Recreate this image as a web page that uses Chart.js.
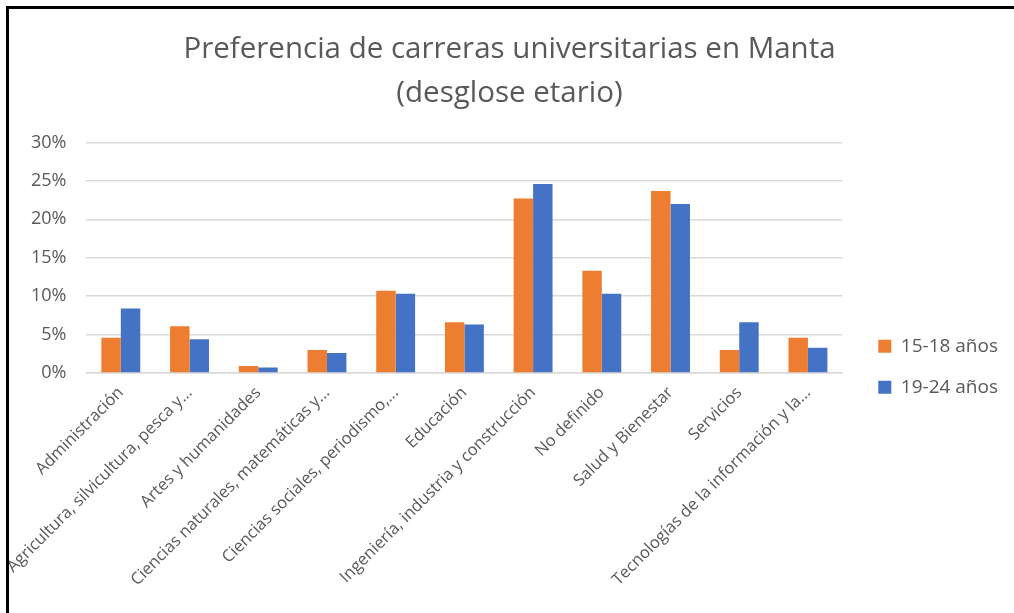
<!DOCTYPE html>
<html>
<head>
<meta charset="utf-8">
<script src="https://cdn.jsdelivr.net/npm/chart.js@4"></script>
<style>
    html, body {
        margin: 0;
        padding: 0;
        background: #fff;
        width: 1014px;
        height: 613px;
        overflow: hidden;
    }

    #wrap {
        position: absolute;
        left: 9px;
        top: 9px;
        width: 1005px;
        height: 604px;
    }

    /* marco negro (solo arriba e izquierda se ven) */
    #frame {
        position: absolute;
        left: 6px;
        top: 6px;
        width: 1100px;
        height: 700px;
        border-left: 3px solid #000;
        border-top: 3px solid #000;
        pointer-events: none;
    }
</style>
</head>
<body>

<div id="wrap">
    <canvas id="careerChart"></canvas>
</div>
<div id="frame"></div>

<script>
// categorías (tal como aparecen recortadas en el gráfico)
const categories = [
    "Administración",
    "Agricultura, silvicultura, pesca y...",
    "Artes y humanidades",
    "Ciencias naturales, matemáticas y...",
    "Ciencias sociales, periodismo,...",
    "Educación",
    "Ingeniería, industria y construcción",
    "No definido",
    "Salud y Bienestar",
    "Servicios",
    "Tecnologías de la información y la..."
];

// porcentajes por grupo de edad
const age15to18 = [4.6, 6.1, 0.9, 3.0, 10.7, 6.6, 22.7, 13.3, 23.7, 3.0, 4.6];
const age19to24 = [8.4, 4.4, 0.7, 2.6, 10.3, 6.3, 24.6, 10.3, 22.0, 6.6, 3.3];

const seriesNames = ["15-18 años", "19-24 años"];

// eje y
const yMax = 30;
const yStep = 5;

const textColor = "#595959";
const gridColor = "#d9d9d9";
const fontFamily = "'Open Sans', sans-serif";

const ctx = document.getElementById("careerChart").getContext("2d");

new Chart(ctx, {
    type: "bar",
    data: {
        labels: categories,
        datasets: [
            {
                label: seriesNames[0],
                data: age15to18,
                backgroundColor: "#ED7D31",
                categoryPercentage: 0.566,
                barPercentage: 1
            },
            {
                label: seriesNames[1],
                data: age19to24,
                backgroundColor: "#4472C4",
                categoryPercentage: 0.566,
                barPercentage: 1
            }
        ]
    },
    options: {
        responsive: true,
        maintainAspectRatio: false,
        animation: false,

        layout: {
            padding: { left: 2, right: 6, top: 0, bottom: 21 }
        },

        plugins: {
            title: {
                display: true,
                text: [
                    "Preferencia de carreras universitarias en Manta",
                    "(desglose etario)"
                ],
                color: textColor,
                font: { family: fontFamily, size: 29.5, weight: "normal", lineHeight: 1.5 },
                padding: { top: 18, bottom: 27 }
            },
            legend: {
                position: "right",
                // título vacío: sólo empuja los elementos hacia abajo
                title: {
                    display: true,
                    text: "",
                    font: { size: 12 },
                    padding: { top: 118, bottom: 0 }
                },
                labels: {
                    color: textColor,
                    font: { family: fontFamily, size: 19 },
                    boxWidth: 13,
                    boxHeight: 13,
                    padding: 22
                }
            },
            tooltip: { enabled: false }
        },

        scales: {
            x: {
                grid: { display: false },
                border: { color: gridColor, width: 1.5 },
                ticks: {
                    color: textColor,
                    font: { family: fontFamily, size: 16.5 },
                    maxRotation: 45,
                    minRotation: 45,
                    autoSkip: false,
                    padding: 2
                }
            },
            y: {
                min: 0,
                max: yMax,
                grid: {
                    color: gridColor,
                    lineWidth: 1.5,
                    drawTicks: false
                },
                border: { display: false },
                ticks: {
                    stepSize: yStep,
                    color: textColor,
                    font: { family: fontFamily, size: 18 },
                    padding: 20,
                    callback: v => v + "%"
                }
            },
            // espacio vacío entre el área del gráfico y la leyenda
            gap: {
                position: "right",
                display: true,
                grid: { display: false },
                border: { display: false },
                ticks: { display: false },
                afterFit: scale => { scale.width = 14; }
            }
        }
    }
});
</script>
</body>
</html>
